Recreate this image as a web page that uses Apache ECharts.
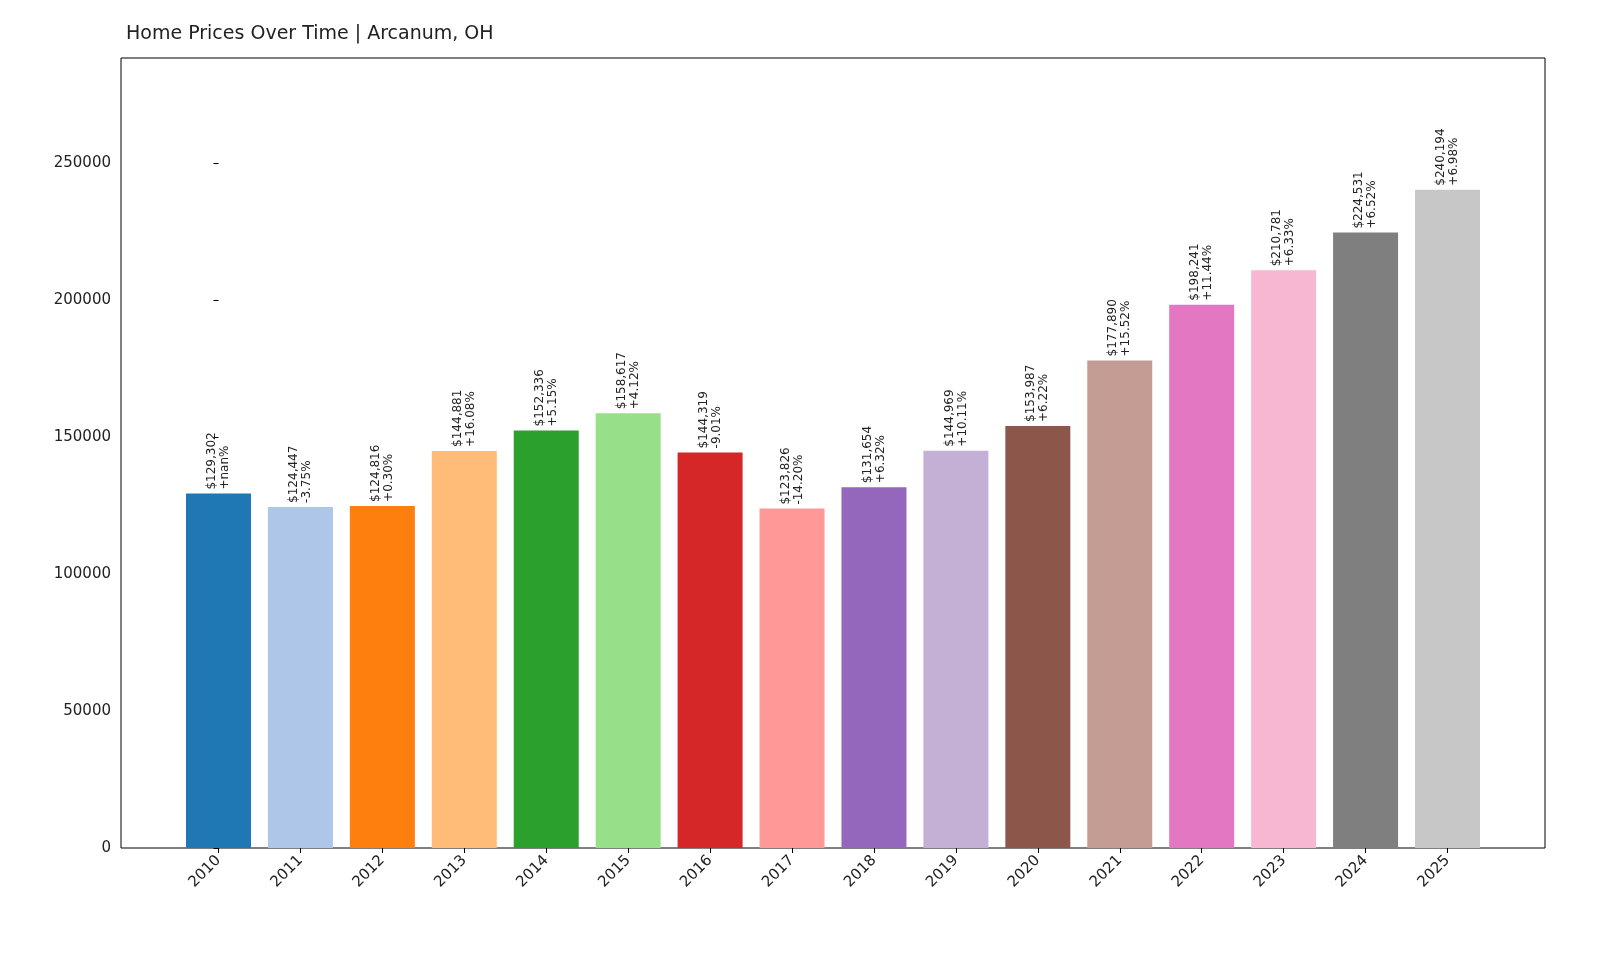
<!DOCTYPE html>
<html>
<head>
<meta charset="utf-8">
<script src="https://cdn.jsdelivr.net/npm/echarts@6/dist/echarts.min.js"></script>
<style>html,body{margin:0;padding:0;background:#fff;}#main{width:1600px;height:960px;}</style>
</head>
<body>
<div id="main"></div>
<script>
// 数据
var years = ['2010','2011','2012','2013','2014','2015','2016','2017','2018','2019','2020','2021','2022','2023','2024','2025'];
var prices = [129302,124447,124816,144881,152336,158617,144319,123826,131654,144969,153987,177890,198241,210781,224531,240194];
var changes = ['+nan%','-3.75%','+0.30%','+16.08%','+5.15%','+4.12%','-9.01%','-14.20%','+6.32%','+10.11%','+6.22%','+15.52%','+11.44%','+6.33%','+6.52%','+6.98%'];
var colors = ['#1f77b4','#aec7e8','#ff7f0e','#ffbb78','#2ca02c','#98df8a','#d62728','#ff9896','#9467bd','#c5b0d5','#8c564b','#c49c94','#e377c2','#f7b6d2','#7f7f7f','#c7c7c7'];

function money(v){ return '$' + v.toLocaleString('en-US'); }

var chart = echarts.init(document.getElementById('main'));
var option = {
	animation: false,
	title: {
		text: 'Home Prices Over Time | Arcanum, OH',
		left: 121, top: 20,
		textStyle: { fontSize: 19, fontWeight: 'normal', color: '#222', fontFamily: 'DejaVu Sans' }
	},
	grid: { left: 121, right: 55, top: 58, bottom: 112, show: true, borderColor: '#000', borderWidth: 1 },
	xAxis: {
		type: 'value', min: -1.19, max: 16.19,
		splitLine: { show: false },
		axisLine: { show: false },
		axisTick: { show: true, customValues: years.map(function(y,i){return i;}), length: 5, lineStyle: { color: '#000' } },
		axisLabel: {
			customValues: years.map(function(y,i){return i;}),
			formatter: function(v){ return years[Math.round(v)]; },
			rotate: 45, fontSize: 15, color: '#222', fontFamily: 'DejaVu Sans', margin: 10
		}
	},
	yAxis: {
		type: 'value', min: 0, max: 288233, interval: 50000,
		splitLine: { show: false },
		axisLine: { show: false },
		axisTick: { show: true, length: 5, lineStyle: { color: '#000' } },
		axisLabel: {
			showMaxLabel: false,
			formatter: function(v){ return v > 250000 ? '' : String(v); },
			fontSize: 15, color: '#222', fontFamily: 'DejaVu Sans', margin: 10
		}
	},
	series: [{
		type: 'bar',
		barWidth: 65,
		data: prices.map(function(v,i){
			return { value: [i, v], itemStyle: { color: colors[i] } };
		}),
		label: {
			show: true, position: 'top', rotate: 90, align: 'left', verticalAlign: 'middle', distance: 4,
			fontSize: 12, lineHeight: 13, color: '#222', fontFamily: 'DejaVu Sans',
			formatter: function(p){ return money(prices[p.dataIndex]) + '\n' + changes[p.dataIndex]; }
		}
	}]
};
chart.setOption(option);
</script>
</body>
</html>
